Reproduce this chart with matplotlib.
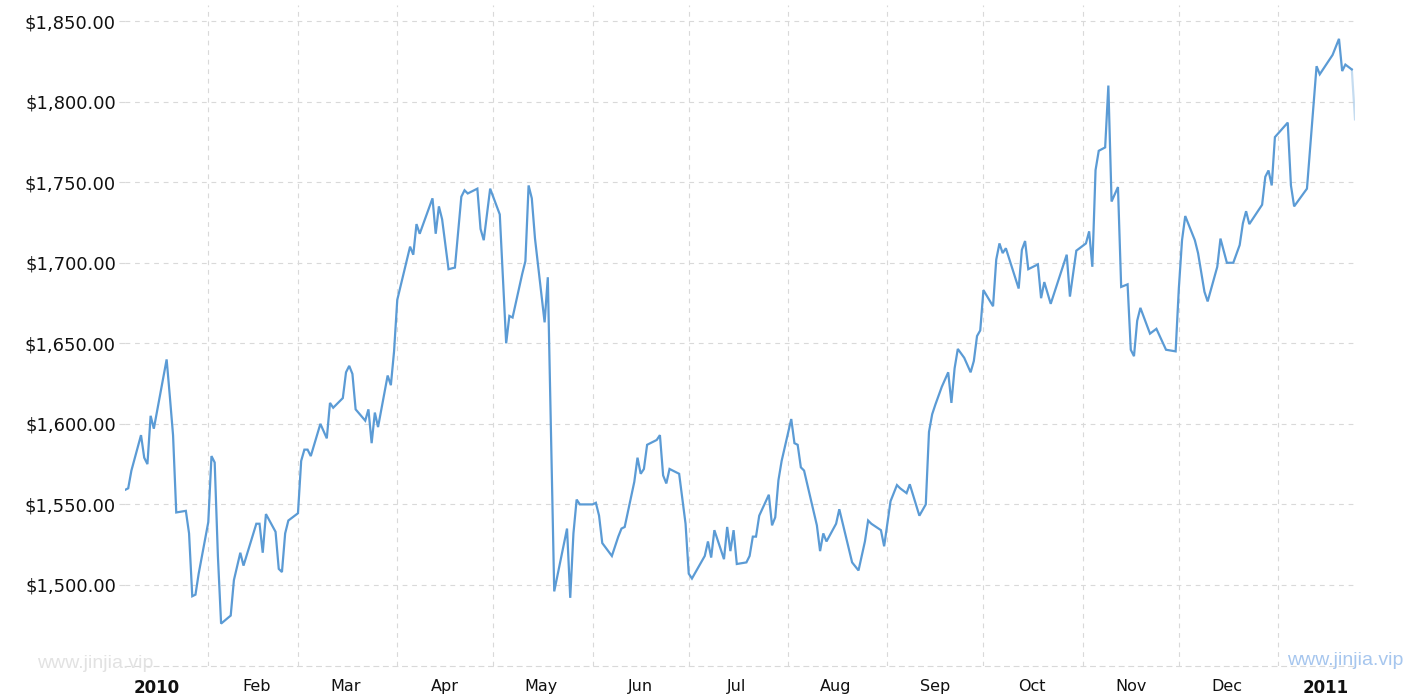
import matplotlib
matplotlib.use("Agg")
import matplotlib.pyplot as plt
import matplotlib.dates as mdates
from matplotlib.ticker import FuncFormatter, FixedLocator
import pandas as pd

# daily prices (vertices of the line)
dates = [
    # Jan 2010
    "2010-01-06", "2010-01-07", "2010-01-08", "2010-01-11", "2010-01-12", "2010-01-13",
    "2010-01-14", "2010-01-15", "2010-01-19", "2010-01-20", "2010-01-21", "2010-01-22",
    "2010-01-25", "2010-01-26", "2010-01-27", "2010-01-28", "2010-01-29",
    # Feb
    "2010-02-01", "2010-02-02", "2010-02-03", "2010-02-04", "2010-02-05", "2010-02-08",
    "2010-02-09", "2010-02-11", "2010-02-12", "2010-02-16", "2010-02-17", "2010-02-18",
    "2010-02-19", "2010-02-22", "2010-02-23", "2010-02-24", "2010-02-25", "2010-02-26",
    # Mar
    "2010-03-01", "2010-03-02", "2010-03-03", "2010-03-04", "2010-03-05", "2010-03-08",
    "2010-03-10", "2010-03-11", "2010-03-12", "2010-03-15", "2010-03-16", "2010-03-17",
    "2010-03-18", "2010-03-19", "2010-03-22", "2010-03-23", "2010-03-24", "2010-03-25",
    "2010-03-26", "2010-03-29", "2010-03-30", "2010-03-31",
    # Apr
    "2010-04-01", "2010-04-05", "2010-04-06", "2010-04-07", "2010-04-08", "2010-04-10",
    "2010-04-12", "2010-04-13", "2010-04-14", "2010-04-15", "2010-04-17", "2010-04-19",
    "2010-04-21", "2010-04-22", "2010-04-23", "2010-04-26", "2010-04-27", "2010-04-28",
    "2010-04-30",
    # May
    "2010-05-03", "2010-05-05", "2010-05-06", "2010-05-07", "2010-05-10", "2010-05-11",
    "2010-05-12", "2010-05-13", "2010-05-14", "2010-05-17", "2010-05-18", "2010-05-20",
    "2010-05-24", "2010-05-25", "2010-05-26", "2010-05-27", "2010-05-28",
    # Jun
    "2010-06-01", "2010-06-02", "2010-06-03", "2010-06-04", "2010-06-07", "2010-06-09",
    "2010-06-10", "2010-06-11", "2010-06-14", "2010-06-15", "2010-06-16", "2010-06-17",
    "2010-06-18", "2010-06-21", "2010-06-22", "2010-06-23", "2010-06-24", "2010-06-25",
    "2010-06-28", "2010-06-30",
    # Jul
    "2010-07-01", "2010-07-02", "2010-07-06", "2010-07-07", "2010-07-08", "2010-07-09",
    "2010-07-12", "2010-07-13", "2010-07-14", "2010-07-15", "2010-07-16", "2010-07-19",
    "2010-07-20", "2010-07-21", "2010-07-22", "2010-07-23", "2010-07-26", "2010-07-27",
    "2010-07-28", "2010-07-29", "2010-07-30",
    # Aug
    "2010-08-02", "2010-08-03", "2010-08-04", "2010-08-05", "2010-08-06", "2010-08-10",
    "2010-08-11", "2010-08-12", "2010-08-13", "2010-08-16", "2010-08-17", "2010-08-21",
    "2010-08-23", "2010-08-25", "2010-08-26", "2010-08-27", "2010-08-30", "2010-08-31",
    # Sep
    "2010-09-02", "2010-09-04", "2010-09-05", "2010-09-07", "2010-09-08", "2010-09-11",
    "2010-09-13", "2010-09-14", "2010-09-15", "2010-09-16", "2010-09-18", "2010-09-20",
    "2010-09-21", "2010-09-22", "2010-09-23", "2010-09-25", "2010-09-27", "2010-09-28",
    "2010-09-29", "2010-09-30",
    # Oct
    "2010-10-01", "2010-10-04", "2010-10-05", "2010-10-06", "2010-10-07", "2010-10-08",
    "2010-10-12", "2010-10-13", "2010-10-14", "2010-10-15", "2010-10-18", "2010-10-19",
    "2010-10-20", "2010-10-22", "2010-10-27", "2010-10-28", "2010-10-30",
    # Nov
    "2010-11-02", "2010-11-03", "2010-11-04", "2010-11-05", "2010-11-06", "2010-11-08",
    "2010-11-09", "2010-11-10", "2010-11-12", "2010-11-13", "2010-11-15", "2010-11-16",
    "2010-11-17", "2010-11-18", "2010-11-19", "2010-11-22", "2010-11-24", "2010-11-27",
    "2010-11-30",
    # Dec
    "2010-12-01", "2010-12-02", "2010-12-03", "2010-12-06", "2010-12-07", "2010-12-09",
    "2010-12-10", "2010-12-13", "2010-12-14", "2010-12-16", "2010-12-18", "2010-12-20",
    "2010-12-21", "2010-12-22", "2010-12-23", "2010-12-27", "2010-12-28", "2010-12-29",
    "2010-12-30", "2010-12-31",
    # Jan 2011
    "2011-01-04", "2011-01-05", "2011-01-06", "2011-01-10", "2011-01-13", "2011-01-14",
    "2011-01-18", "2011-01-20", "2011-01-21", "2011-01-22", "2011-01-24", "2011-01-25",
]

prices = [
    # Jan 2010
    1559, 1560, 1571, 1593, 1579, 1575, 1605, 1597, 1640, 1617, 1593, 1545,
    1546, 1532, 1493, 1494, 1507,
    # Feb
    1539, 1580, 1576, 1518, 1476, 1481, 1503, 1520, 1512, 1538, 1538, 1520,
    1544, 1533, 1510, 1508, 1532, 1540,
    # Mar
    1544.5, 1577, 1584, 1584, 1580, 1600, 1591, 1613, 1610, 1616, 1632, 1636,
    1631, 1609, 1602, 1609, 1588, 1607, 1598, 1630, 1624, 1645,
    # Apr
    1677, 1710, 1705, 1724, 1718, 1729, 1740, 1718, 1735, 1727, 1696, 1697,
    1741, 1745, 1743, 1746, 1721, 1714, 1746,
    # May
    1730, 1650, 1667, 1666, 1693, 1701, 1748, 1740, 1715, 1663, 1691, 1496,
    1535, 1492, 1532, 1553, 1550,
    # Jun
    1550, 1551, 1543, 1526, 1518, 1530, 1535, 1536, 1564, 1579, 1569, 1572,
    1587, 1590, 1593, 1568, 1563, 1572, 1569, 1538,
    # Jul
    1507, 1504, 1518, 1527, 1517, 1534, 1516, 1536, 1521, 1534, 1513, 1514,
    1518, 1530, 1530, 1543, 1556, 1537, 1542, 1565, 1577,
    # Aug
    1603, 1588, 1587, 1573, 1571, 1537, 1521, 1532, 1527, 1538, 1547, 1514,
    1509, 1527, 1540, 1538, 1534, 1524,
    # Sep
    1552, 1562, 1560, 1557, 1562.5, 1543, 1550, 1595, 1606, 1612, 1623, 1632,
    1613, 1634.5, 1646.5, 1641, 1632, 1639, 1654.5, 1658,
    # Oct
    1683, 1673, 1702, 1712, 1706, 1709, 1684, 1708, 1713.5, 1696, 1699, 1678,
    1688, 1674.5, 1705, 1679, 1707.5,
    # Nov
    1712, 1719.5, 1697.5, 1757.5, 1769.5, 1771.6, 1810, 1738, 1747, 1685, 1686.6, 1646,
    1642, 1664, 1672, 1656, 1659, 1646, 1645,
    # Dec
    1684, 1714, 1729, 1714, 1706, 1682, 1676, 1697.5, 1715, 1700, 1700, 1711,
    1724.5, 1732, 1724, 1736, 1753.4, 1757.3, 1748, 1778,
    # Jan 2011
    1787, 1748, 1735, 1746, 1822, 1817, 1829, 1839, 1819, 1823, 1820, 1789,
]

y_ticks = [1500, 1550, 1600, 1650, 1700, 1750, 1800, 1850]
month_labels = ["2010", "Feb", "Mar", "Apr", "May", "Jun", "Jul", "Aug",
                "Sep", "Oct", "Nov", "Dec", "2011"]
watermark = "www.jinjia.vip"

plt.rcParams["font.family"] = ["DejaVu Sans"]

x = pd.to_datetime(dates)
line_color = "#5b9bd5"
grid_color = "#d9d9d9"
dash = (0, (4.3, 4.3))

fig = plt.figure(figsize=(14.15, 7.0), dpi=100)
ax = fig.add_axes([125 / 1415, 34.5 / 700, 1230 / 1415, 660.5 / 700])

ax.plot(x[:-1], prices[:-1], color=line_color, lw=1.6, solid_joinstyle="miter", zorder=3)
ax.plot(x[-2:], prices[-2:], color=line_color, lw=1.6, alpha=0.35, zorder=3)

ax.set_xlim(x[0], x[-1])
ax.set_ylim(1450, 1860)

# month starts carry the vertical grid, mid-month carries the label
month_starts = pd.date_range("2010-02-01", "2011-01-01", freq="MS")
mid_months = pd.date_range("2010-01-01", "2011-01-01", freq="MS") + pd.Timedelta(days=15)
ax.xaxis.set_major_locator(FixedLocator(mdates.date2num(month_starts)))
ax.xaxis.set_minor_locator(FixedLocator(mdates.date2num(mid_months)))
ax.xaxis.set_major_formatter(FuncFormatter(lambda v, p: ""))
ax.xaxis.set_minor_formatter(FuncFormatter(lambda v, p: month_labels[p] if p < len(month_labels) else ""))
ax.tick_params(axis="x", which="major", length=0)
ax.tick_params(axis="x", which="minor", length=0, pad=10, labelsize=11.5, labelcolor="#111111")
ax.grid(axis="x", which="major", color=grid_color, lw=0.8, linestyle=dash)

ax.set_yticks(y_ticks)
ax.yaxis.set_major_formatter(FuncFormatter(lambda v, p: f"${v:,.2f}"))
ax.tick_params(axis="y", length=4, color=grid_color, width=0.8, pad=2.5,
               labelsize=13, labelcolor="#111111")
ax.grid(axis="y", color=grid_color, lw=0.8, linestyle=dash)

for side in ["top", "right", "left"]:
    ax.spines[side].set_visible(False)
ax.spines["bottom"].set_color(grid_color)
ax.spines["bottom"].set_linewidth(0.8)
ax.spines["bottom"].set_linestyle(dash)

fig.canvas.draw()
for lab in ax.xaxis.get_minorticklabels():
    if lab.get_text() in ("2010", "2011"):
        lab.set_fontweight("bold")
        lab.set_fontsize(12)

fig.text(36.7 / 1415, 1 - 668 / 700, watermark, color="#e2e2e2", fontsize=14,
         family=["Liberation Sans", "DejaVu Sans"], va="baseline", ha="left")
fig.text(1286.7 / 1415, 1 - 665 / 700, watermark, color="#a6c6ee", fontsize=14,
         family=["Liberation Sans", "DejaVu Sans"], va="baseline", ha="left")

fig.savefig("out.png", dpi=100)
plt.close(fig)
